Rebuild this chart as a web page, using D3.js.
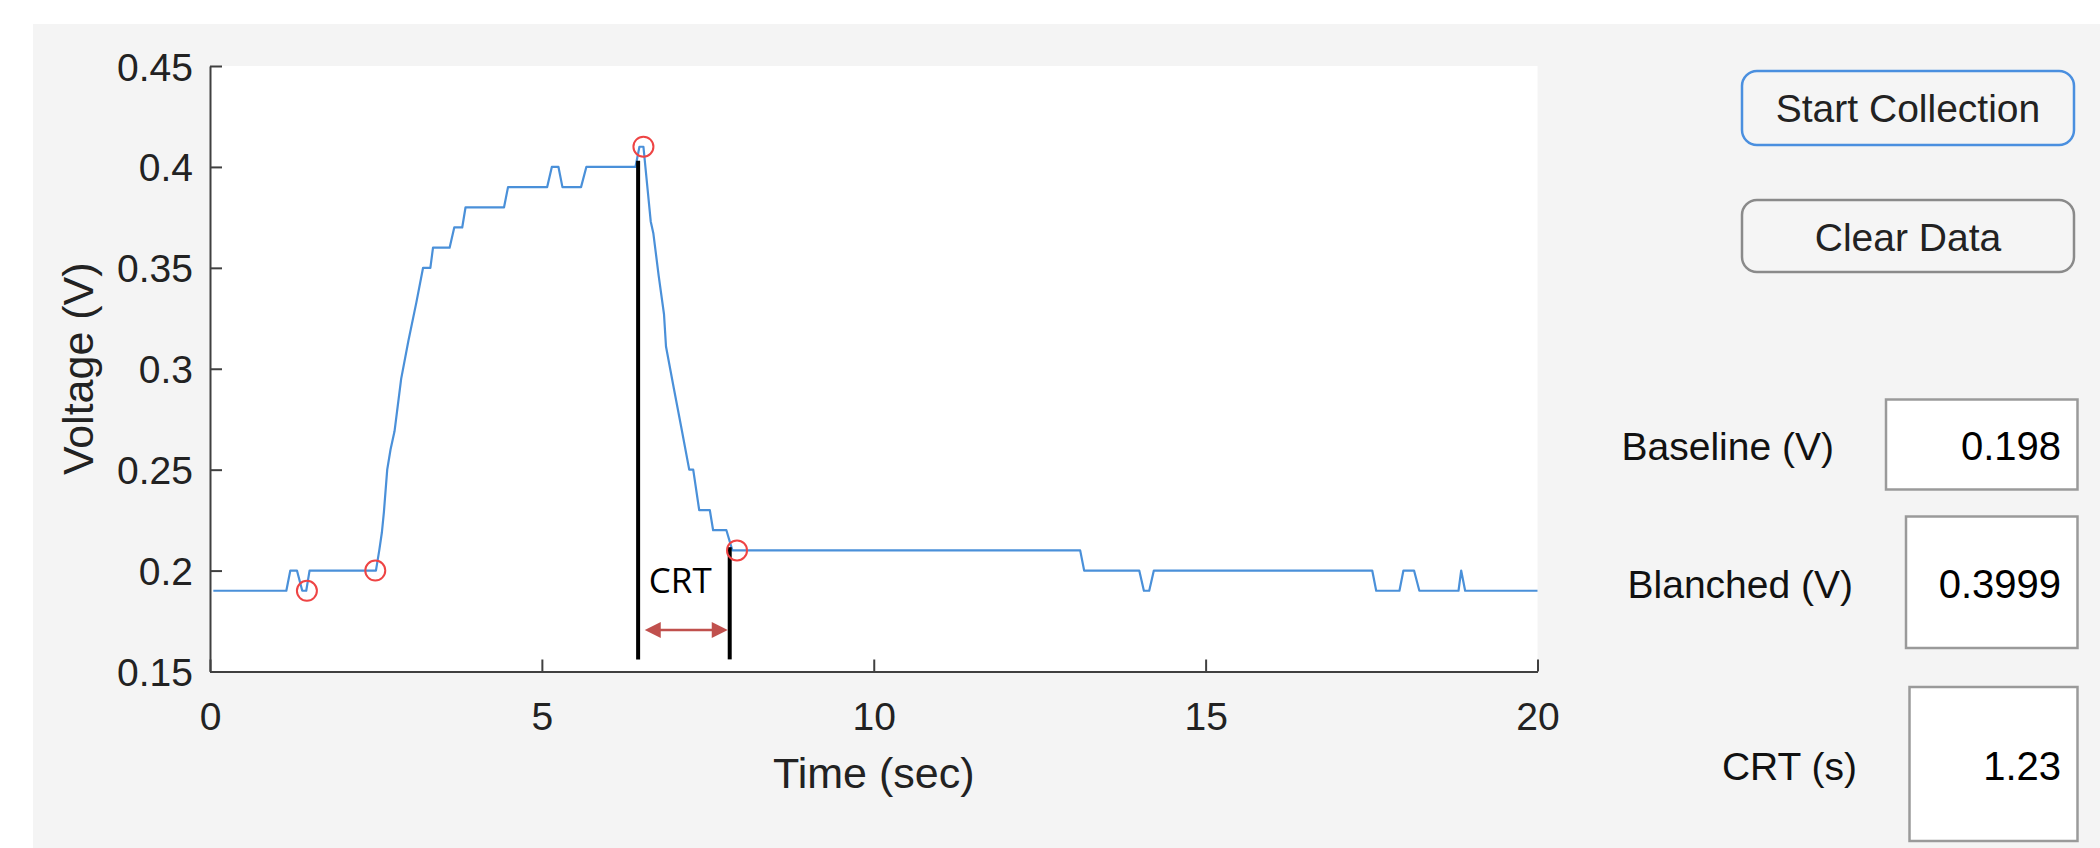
<!DOCTYPE html>
<html>
<head>
<meta charset="utf-8">
<script src="https://cdn.jsdelivr.net/npm/d3@7"></script>
<style>
  body { margin: 0; background: #fff; }
  svg text { font-family: Arial, "Liberation Sans", Helvetica, sans-serif; }
  svg text.crt { font-family: "Open Sans", sans-serif; }
</style>
</head>
<body>
<svg id="chart" width="2100" height="848"></svg>
<script>
// Capillary refill trace: corners of the quantised voltage signal
var timeSec = [0.05, 1.15, 1.21, 1.31, 1.39, 1.45, 1.50, 2.50, 2.55, 2.59, 2.62, 2.67, 2.72, 2.78, 2.88, 2.99,
               3.11, 3.21, 3.32, 3.36, 3.61, 3.68, 3.80, 3.85, 4.43, 4.49, 5.08, 5.15, 5.25, 5.31, 5.59, 5.67,
               6.41, 6.47, 6.53, 6.64, 6.68, 6.76, 6.84, 6.87, 6.99, 7.10, 7.22, 7.28, 7.37, 7.53, 7.58, 7.78,
               7.87, 13.11, 13.17, 14.00, 14.07, 14.15, 14.22, 17.51, 17.57, 17.92, 17.98, 18.14, 18.22, 18.81,
               18.85, 18.91, 20.00];
var voltage = [0.19, 0.19, 0.20, 0.20, 0.19, 0.19, 0.20, 0.20, 0.21, 0.219, 0.229, 0.25, 0.26, 0.269, 0.295, 0.314,
               0.333, 0.35, 0.35, 0.36, 0.36, 0.37, 0.37, 0.38, 0.38, 0.39, 0.39, 0.40, 0.40, 0.39, 0.39, 0.40,
               0.40, 0.41, 0.41, 0.373, 0.367, 0.346, 0.327, 0.311, 0.29, 0.271, 0.25, 0.25, 0.23, 0.23, 0.22, 0.22,
               0.21, 0.21, 0.20, 0.20, 0.19, 0.19, 0.20, 0.20, 0.19, 0.19, 0.20, 0.20, 0.19, 0.19,
               0.20, 0.19, 0.19];

// detected points (red circles)
var markTime = [1.46, 2.49, 6.53, 7.94];
var markVolt = [0.19, 0.20, 0.41, 0.21];

// CRT annotation
var crtLineTime = [6.45, 7.83];
var crtLineTop = [0.403, 0.2116];
var crtLineBottom = 0.156;
var crtArrowTime = [6.55, 7.80];
var crtArrowVolt = 0.1705;

var xTicks = [0, 5, 10, 15, 20];
var yTicks = [0.15, 0.2, 0.25, 0.3, 0.35, 0.4, 0.45];

var buttonLabels = ["Start Collection", "Clear Data"];
var readoutLabels = ["Baseline (V)", "Blanched (V)", "CRT (s)"];
var readoutValues = ["0.198", "0.3999", "1.23"];

var svg = d3.select("#chart");

// app window background
svg.append("rect").attr("x", 33).attr("y", 24).attr("width", 2067).attr("height", 824).attr("fill", "#f4f4f4");

var x = d3.scaleLinear().domain([0, 20]).range([210, 1537.5]);
var y = d3.scaleLinear().domain([0.15, 0.45]).range([671.5, 66]);

svg.append("rect")
   .attr("x", x(0)).attr("y", y(0.45))
   .attr("width", x(20) - x(0)).attr("height", y(0.15) - y(0.45))
   .attr("fill", "#fff");

var xAxis = svg.append("g")
   .attr("transform", "translate(0," + y(0.15) + ")")
   .call(d3.axisBottom(x).tickValues(xTicks).tickSize(-12).tickSizeOuter(0).tickPadding(31)
           .tickFormat(d3.format("d")));

var yAxis = svg.append("g")
   .attr("transform", "translate(" + x(0) + ",0)")
   .call(d3.axisLeft(y).tickValues(yTicks).tickSize(-12).tickSizeOuter(0).tickPadding(17)
           .tickFormat(function(d) { return String(+d.toFixed(2)); }));

[xAxis, yAxis].forEach(function(g) {
  g.attr("font-family", null);
  g.selectAll("path, line").attr("stroke", "#404040").attr("stroke-width", 2);
  g.selectAll("text").attr("font-size", 39).attr("fill", "#222");
});
yAxis.selectAll("text").attr("dy", "0.36em");

svg.append("text")
   .attr("x", (x(0) + x(20)) / 2).attr("y", 788)
   .attr("text-anchor", "middle").attr("font-size", 43).attr("fill", "#222")
   .text("Time (sec)");

svg.append("text")
   .attr("transform", "translate(93," + (y(0.15) + y(0.45)) / 2 + ") rotate(-90)")
   .attr("text-anchor", "middle").attr("font-size", 43).attr("fill", "#222")
   .text("Voltage (V)");

// trace
var trace = d3.range(timeSec.length).map(function(i) { return [timeSec[i], voltage[i]]; });
svg.append("path")
   .datum(trace)
   .attr("fill", "none")
   .attr("stroke", "#4a90d9")
   .attr("stroke-width", 2.2)
   .attr("stroke-linejoin", "round")
   .attr("d", d3.line().x(function(d) { return x(d[0]); }).y(function(d) { return y(d[1]); }));

// CRT vertical lines
svg.selectAll(".crt-line")
   .data(crtLineTime)
   .join("line")
   .attr("class", "crt-line")
   .attr("x1", function(d) { return x(d); }).attr("x2", function(d) { return x(d); })
   .attr("y1", function(d, i) { return y(crtLineTop[i]); })
   .attr("y2", y(crtLineBottom))
   .attr("stroke", "#000").attr("stroke-width", 4);

// double arrow
var arrowColor = "#c0504d";
var ax1 = x(crtArrowTime[0]), ax2 = x(crtArrowTime[1]), ay = y(crtArrowVolt);
svg.append("line")
   .attr("x1", ax1 + 12).attr("x2", ax2 - 12).attr("y1", ay).attr("y2", ay)
   .attr("stroke", arrowColor).attr("stroke-width", 2.5);
svg.append("path")
   .attr("d", "M" + ax1 + "," + ay + "L" + (ax1 + 16) + "," + (ay - 8) + "L" + (ax1 + 16) + "," + (ay + 8) + "Z")
   .attr("fill", arrowColor);
svg.append("path")
   .attr("d", "M" + ax2 + "," + ay + "L" + (ax2 - 16) + "," + (ay - 8) + "L" + (ax2 - 16) + "," + (ay + 8) + "Z")
   .attr("fill", arrowColor);

svg.append("text")
   .attr("class", "crt")
   .attr("x", (ax1 + ax2) / 2 - 6).attr("y", 592.5)
   .attr("text-anchor", "middle")
   .attr("font-size", 35).attr("fill", "#000")
   .text("CRT");

// marker circles
svg.selectAll(".mark")
   .data(markTime)
   .join("circle")
   .attr("class", "mark")
   .attr("cx", function(d) { return x(d); })
   .attr("cy", function(d, i) { return y(markVolt[i]); })
   .attr("r", 10)
   .attr("fill", "none")
   .attr("stroke", "#ee4444")
   .attr("stroke-width", 2);

// --- right control panel ---
var buttonBoxes = [
  { x: 1742, y: 71, w: 332, h: 74, stroke: "#4a8fdf", base: 122 },
  { x: 1742, y: 200, w: 332, h: 72, stroke: "#8a8a8a", base: 251 }
];
buttonBoxes.forEach(function(b, i) {
  svg.append("rect")
     .attr("x", b.x).attr("y", b.y).attr("width", b.w).attr("height", b.h)
     .attr("rx", 15).attr("fill", "#f5f5f5")
     .attr("stroke", b.stroke).attr("stroke-width", 2.5);
  svg.append("text")
     .attr("x", b.x + b.w / 2).attr("y", b.base)
     .attr("text-anchor", "middle").attr("font-size", 39).attr("fill", "#222")
     .text(buttonLabels[i]);
});

var readoutBoxes = [
  { x: 1886, y: 399.5, w: 191.5, h: 90, labelEnd: 1834, base: 459.5 },
  { x: 1906, y: 516.5, w: 171.5, h: 131.5, labelEnd: 1853, base: 597.5 },
  { x: 1909.5, y: 687, w: 168, h: 154, labelEnd: 1857, base: 780 }
];
readoutBoxes.forEach(function(b, i) {
  svg.append("rect")
     .attr("x", b.x).attr("y", b.y).attr("width", b.w).attr("height", b.h)
     .attr("fill", "#fff").attr("stroke", "#9a9a9a").attr("stroke-width", 2.5);
  svg.append("text")
     .attr("x", b.labelEnd).attr("y", b.base)
     .attr("text-anchor", "end").attr("font-size", 39).attr("fill", "#111")
     .text(readoutLabels[i]);
  svg.append("text")
     .attr("x", 2061).attr("y", b.base)
     .attr("text-anchor", "end").attr("font-size", 40).attr("fill", "#000")
     .text(readoutValues[i]);
});
</script>
</body>
</html>
